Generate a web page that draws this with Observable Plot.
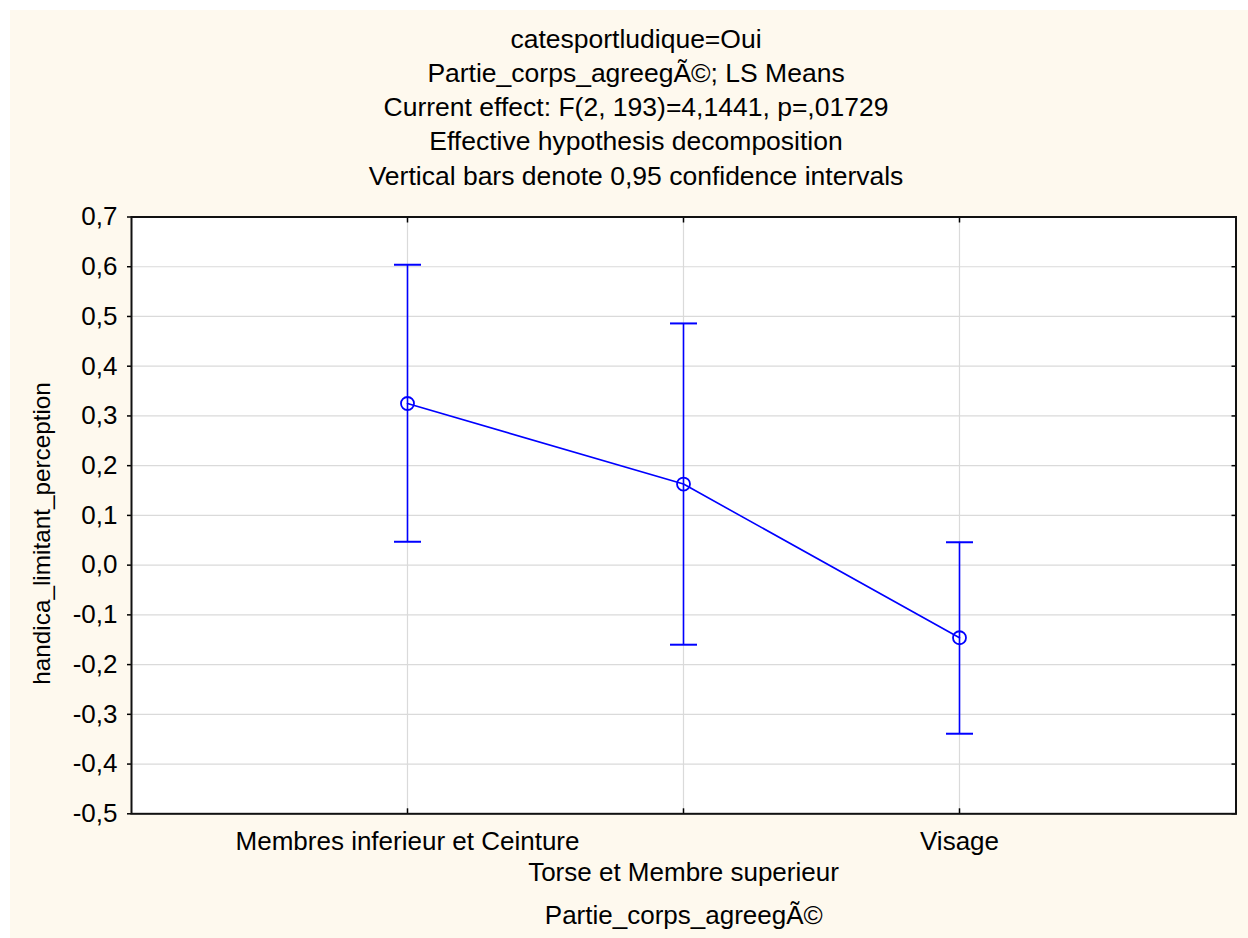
<!DOCTYPE html>
<html>
<head>
<meta charset="utf-8">
<script src="https://cdn.jsdelivr.net/npm/d3@7"></script>
<script src="https://cdn.jsdelivr.net/npm/@observablehq/plot@0.6"></script>
<style>
  html, body { margin: 0; padding: 0; background: #ffffff; overflow: hidden; }
  #chart { position: absolute; left: 10px; top: 10px; width: 1238px; height: 928px; }
</style>
</head>
<body>
<div id="chart"></div>
<script>
// ---- data ----
const categories = ["Membres inferieur et Ceinture", "Torse et Membre superieur", "Visage"];
const means = [0.325, 0.163, -0.146];
const lower = [0.047, -0.160, -0.339];
const upper = [0.604, 0.486, 0.046];
const yTicks = [-0.5, -0.4, -0.3, -0.2, -0.1, 0.0, 0.1, 0.2, 0.3, 0.4, 0.5, 0.6, 0.7];
const titleLines = [
  "catesportludique=Oui",
  "Partie_corps_agreegÃ©; LS Means",
  "Current effect: F(2, 193)=4,1441, p=,01729",
  "Effective hypothesis decomposition",
  "Vertical bars denote 0,95 confidence intervals"
];
const xTitle = "Partie_corps_agreegÃ©";
const yTitle = "handica_limitant_perception";

// ---- table for the library ----
const rows = categories.map((c, i) => ({cat: c, mean: means[i], lo: lower[i], hi: upper[i]}));
const fmt = d => d.toFixed(1).replace(".", ",").replace("-0,0", "0,0");

const BLUE = "#0000ff";
const FS = 26;
const TFS = 26.5;

// horizontal-bar symbol for error-bar caps (half-length = r)
const capSymbol = {
  draw(context, size) {
    const r = Math.sqrt(size / Math.PI);
    context.moveTo(-r, 0);
    context.lineTo(r, 0);
  }
};

const chart = Plot.plot({
  width: 1238,
  height: 928,
  marginLeft: 121,
  marginRight: 12.5,
  marginTop: 206.5,
  marginBottom: 124.7,
  style: {
    background: "#fef9ee",
    fontFamily: "'Liberation Sans', Arial, sans-serif",
    fontSize: FS + "px",
    color: "#000",
    overflow: "visible"
  },
  x: {type: "point", domain: categories, padding: 1, axis: null},
  y: {domain: [-0.5, 0.7], axis: null},
  marks: [
    Plot.frame({fill: "#ffffff", stroke: "none"}),
    Plot.gridY(yTicks, {stroke: "#dadada", strokeOpacity: 1, strokeWidth: 1.2}),
    Plot.gridX(categories, {stroke: "#dadada", strokeOpacity: 1, strokeWidth: 1.2}),
    // left axis: outward ticks + labels
    Plot.axisY(yTicks, {anchor: "left", tickSize: 4, tickPadding: 10, tickFormat: fmt,
      fontSize: FS, label: null, stroke: "#000", strokeWidth: 1.5}),
    // right axis: inward ticks
    Plot.axisY(yTicks, {anchor: "right", tickSize: 5, insetRight: 5, fill: "none",
      label: null, stroke: "#000", strokeWidth: 1.5}),
    // top & bottom axes: inward ticks
    Plot.axisX(categories, {anchor: "top", tickSize: 5, insetTop: 5, fill: "none",
      label: null, stroke: "#000", strokeWidth: 1.5}),
    Plot.axisX(categories, {anchor: "bottom", tickSize: 5, insetBottom: 5, fill: "none",
      label: null, stroke: "#000", strokeWidth: 1.5}),
    // staggered category labels
    Plot.text(categories.filter((d, i) => i % 2 === 0), {x: d => d, text: d => d,
      frameAnchor: "bottom", lineAnchor: "bottom", dy: 35.7, fontSize: FS, fill: "#000"}),
    Plot.text(categories.filter((d, i) => i % 2 === 1), {x: d => d, text: d => d,
      frameAnchor: "bottom", lineAnchor: "bottom", dy: 66.7, fontSize: FS, fill: "#000"}),
    // axis titles
    Plot.text([xTitle], {text: d => d, frameAnchor: "bottom", lineAnchor: "bottom",
      dy: 109.7, fontSize: FS, fill: "#000"}),
    Plot.text([yTitle], {text: d => d, frameAnchor: "left", textAnchor: "middle", rotate: -90,
      lineAnchor: "middle", dx: -89, dy: 18, fontSize: 24.3, fill: "#000"}),
    // title block
    Plot.text([titleLines.join("\n")], {text: d => d, frameAnchor: "top", lineAnchor: "bottom",
      lineHeight: 34.2 / TFS, dx: -47.75, dy: -32.5, fontSize: TFS, fill: "#000", textAnchor: "middle"}),
    // data
    Plot.ruleX(rows, {x: "cat", y1: "lo", y2: "hi", stroke: BLUE, strokeWidth: 1.6}),
    Plot.dot(rows, {x: "cat", y: "hi", r: 13.5, symbol: capSymbol, stroke: BLUE, fill: "none", strokeWidth: 2}),
    Plot.dot(rows, {x: "cat", y: "lo", r: 13.5, symbol: capSymbol, stroke: BLUE, fill: "none", strokeWidth: 2}),
    Plot.line(rows, {x: "cat", y: "mean", stroke: BLUE, strokeWidth: 1.6}),
    Plot.dot(rows, {x: "cat", y: "mean", r: 6.5, stroke: BLUE, fill: "none", strokeWidth: 1.8}),
    Plot.frame({stroke: "#111", strokeWidth: 2})
  ]
});

document.getElementById("chart").appendChild(chart);
</script>
</body>
</html>
